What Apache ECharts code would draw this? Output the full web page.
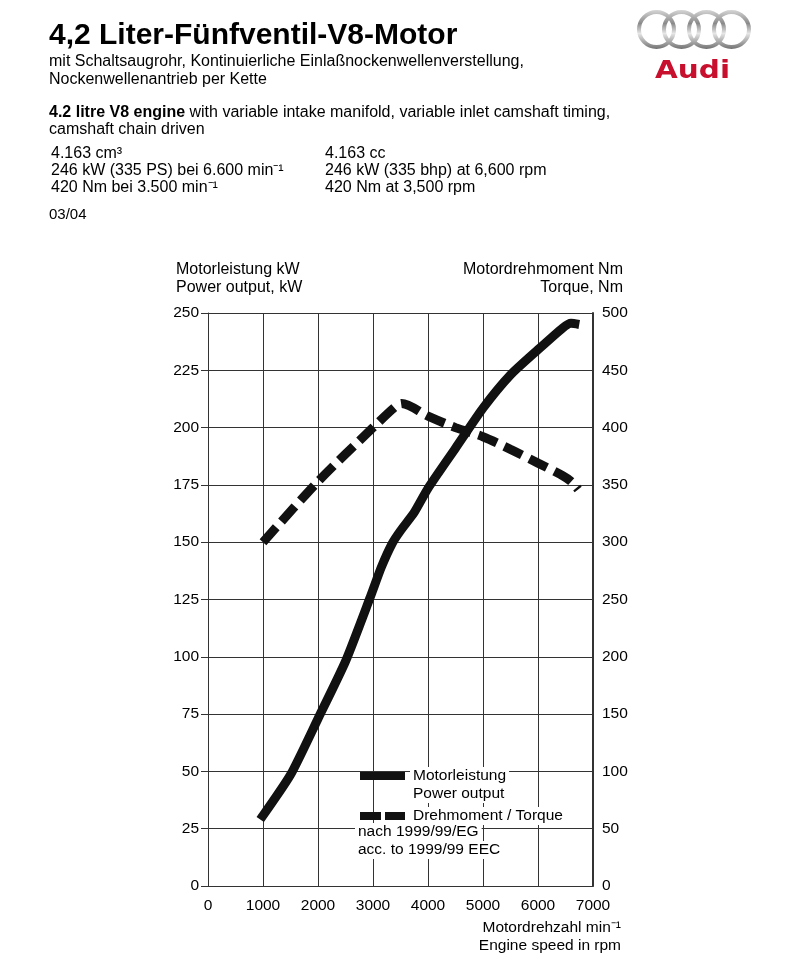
<!DOCTYPE html>
<html>
<head>
<meta charset="utf-8">
<script src="https://cdn.jsdelivr.net/npm/echarts@6/dist/echarts.min.js"></script>
<style>
html,body{margin:0;padding:0;background:#fff;}
#chart{width:800px;height:966px;}
</style>
</head>
<body>
<div id="chart"></div>
<script>
// ---- data ----
const rpmTicks = [0, 1000, 2000, 3000, 4000, 5000, 6000, 7000];
const powerTicks = [0, 25, 50, 75, 100, 125, 150, 175, 200, 225, 250];
const torqueTicks = [0, 50, 100, 150, 200, 250, 300, 350, 400, 450, 500];

const powerRpm = [950, 1500, 2000, 2500, 2950, 3150, 3350, 3500, 3750, 4000, 4500, 5000, 5500, 6000, 6450, 6600, 6750];
const powerKw  = [29, 48.5, 73, 98, 126, 139, 149.5, 155, 163, 173.5, 191, 208.5, 223, 234, 243.5, 245.5, 245];

const torqueRpm = [1000, 2000, 3000, 3400, 3520, 4000, 4500, 5000, 5500, 6000, 6450, 6600, 6730];
const torqueNm  = [300, 353, 400, 418, 421, 410, 400, 392, 381, 369, 358, 353, 346];

const powerName = 'Motorleistung';
const torqueName = 'Drehmoment / Torque';

const chart = echarts.init(document.getElementById('chart'), null, {renderer: 'canvas'});
const FONT = '"Liberation Sans", Arial, Helvetica, sans-serif';

function txt(x, y, text, opts) {
  opts = opts || {};
  return {
    type: 'text', z: 100,
    style: Object.assign({
      x: x, y: y, text: text,
      fontFamily: FONT, fontSize: 16, fill: '#000',
      align: 'left', verticalAlign: 'middle',
      textAlign: 'left', textVerticalAlign: 'middle'
    }, opts)
  };
}
function whiteTxt(x, y, text) {
  return txt(x, y, text, {fontSize: 15.5, backgroundColor: '#fff', padding: [1, 3, 1, 3]});
}
const ringGrad = new echarts.graphic.LinearGradient(0, 0, 0, 1, [
  {offset: 0, color: '#d8d8d8'}, {offset: 0.35, color: '#8a8a8a'},
  {offset: 0.6, color: '#e6e6e6'}, {offset: 1, color: '#6e6e6e'}
]);
function ring(cx) {
  return {type: 'circle', shape: {cx: cx, cy: 29.5, r: 17.5}, style: {fill: 'none', stroke: ringGrad, lineWidth: 4}, z: 100};
}

const option = {
  animation: false,
  backgroundColor: '#fff',
  textStyle: {fontFamily: FONT},
  grid: {left: 208, top: 313, width: 385, height: 573, containLabel: false},
  xAxis: {
    type: 'value', min: 0, max: 7000, interval: 1000,
    axisLine: {show: true, lineStyle: {color: '#333', width: 1}},
    axisTick: {show: false},
    splitLine: {show: true, lineStyle: {color: '#333', width: 1}},
    axisLabel: {color: '#000', fontSize: 15.5, margin: 12, fontFamily: FONT,
      formatter: v => String(v)}
  },
  yAxis: [
    {
      type: 'value', min: 0, max: 250, interval: 25, position: 'left',
      axisLine: {show: true, lineStyle: {color: '#333', width: 1}},
      axisTick: {show: true, inside: false, length: 7, lineStyle: {color: '#333'}},
      splitLine: {show: true, lineStyle: {color: '#333', width: 1}},
      axisLabel: {color: '#000', fontSize: 15.5, margin: 9, fontFamily: FONT}
    },
    {
      type: 'value', min: 0, max: 500, interval: 50, position: 'right',
      axisLine: {show: true, lineStyle: {color: '#333', width: 2}},
      axisTick: {show: false},
      splitLine: {show: false},
      axisLabel: {color: '#000', fontSize: 15.5, margin: 9, fontFamily: FONT}
    }
  ],
  legend: {
    orient: 'vertical', left: 360, top: 767,
    itemWidth: 45, itemHeight: 8, itemGap: 22,
    padding: 0,
    textStyle: {color: '#000', fontSize: 15.5, fontFamily: FONT, backgroundColor: '#fff', padding: [1, 3, 1, 3]},
    data: [
      {name: powerName, icon: 'rect'},
      {name: torqueName, icon: 'path://M0,0H21V8H0Z M25,0H45V8H25Z'}
    ]
  },
  series: [
    {
      name: powerName, type: 'line', yAxisIndex: 0,
      data: powerRpm.map((r, i) => [r, powerKw[i]]),
      symbol: 'none', smooth: 0.2, z: 3,
      lineStyle: {color: '#111', width: 9, cap: 'butt', join: 'round'},
      itemStyle: {color: '#111'}
    },
    {
      name: torqueName, type: 'line', yAxisIndex: 1,
      data: torqueRpm.map((r, i) => [r, torqueNm[i]]),
      symbol: 'none', smooth: 0.3, z: 3,
      lineStyle: {color: '#111', width: 9, type: [20, 8], cap: 'butt'},
      itemStyle: {color: '#111'}
    }
  ],
  graphic: [
    txt(49, 36, '4,2 Liter-Fünfventil-V8-Motor', {fontSize: 30, fontWeight: 'bold'}),
    txt(49, 62, 'mit Schaltsaugrohr, Kontinuierliche Einlaßnockenwellenverstellung,'),
    txt(49, 80, 'Nockenwellenantrieb per Kette'),
    txt(49, 113, '{b|4.2 litre V8 engine} with variable intake manifold, variable inlet camshaft timing,', {
      rich: {b: {fontWeight: 'bold', fontSize: 16, fontFamily: FONT}}
    }),
    txt(49, 130, 'camshaft chain driven'),
    txt(51, 154, '4.163 cm³'),
    txt(51, 171, '246 kW (335 PS) bei 6.600 min⁻¹'),
    txt(51, 188, '420 Nm bei 3.500 min⁻¹'),
    txt(325, 154, '4.163 cc'),
    txt(325, 171, '246 kW (335 bhp) at 6,600 rpm'),
    txt(325, 188, '420 Nm at 3,500 rpm'),
    txt(49, 215, '03/04', {fontSize: 15}),
    // axis titles
    txt(176, 270, 'Motorleistung kW'),
    txt(176, 288, 'Power output, kW'),
    txt(623, 270, 'Motordrehmoment Nm', {align: 'right', textAlign: 'right'}),
    txt(623, 288, 'Torque, Nm', {align: 'right', textAlign: 'right'}),
    txt(621, 928, 'Motordrehzahl min⁻¹', {align: 'right', textAlign: 'right', fontSize: 15.5}),
    txt(621, 946, 'Engine speed in rpm', {align: 'right', textAlign: 'right', fontSize: 15.5}),
    // legend extras
    whiteTxt(410, 794, 'Power output'),
    whiteTxt(355, 832, 'nach 1999/99/EG'),
    whiteTxt(355, 850, 'acc. to 1999/99 EEC'),
    // logo
    ring(656.5), ring(681.5), ring(706.5), ring(731.5),
    {
      type: 'text', x: 692.5, y: 71, scaleX: 1.18, z: 100,
      style: {x: 0, y: 0, text: 'Audi', fontSize: 25, fontWeight: 'bold', fill: '#c8102e',
        align: 'center', textAlign: 'center', verticalAlign: 'middle', textVerticalAlign: 'middle',
        fontFamily: '"DejaVu Sans", "Liberation Sans", sans-serif'}
    }
  ]
};
chart.setOption(option);
</script>
</body>
</html>
